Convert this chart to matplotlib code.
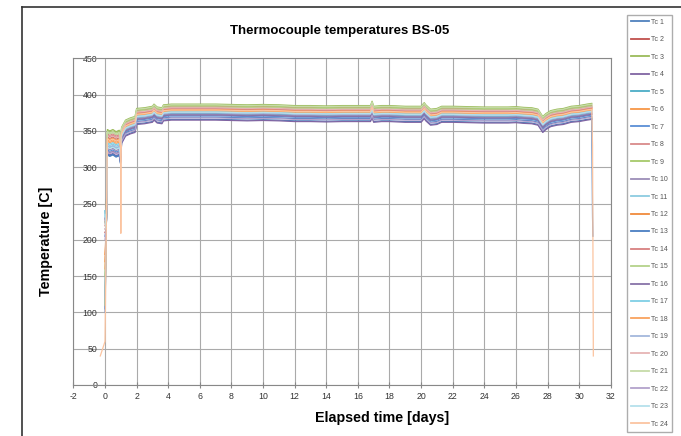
import matplotlib
matplotlib.use("Agg")
import matplotlib.pyplot as plt
from matplotlib.lines import Line2D

plt.rcParams['font.family'] = ['Liberation Sans', 'DejaVu Sans']
plt.rcParams['axes.unicode_minus'] = False

labels = ["Tc %d" % i for i in range(1, 25)]
colors = ["#4F81BD", "#C0504D", "#9BBB59", "#8064A2", "#4BACC6", "#F79646",
          "#5B8FD6", "#D98A8A", "#A6C96A", "#9C8DB8", "#8CCCE0", "#F08A3C",
          "#4A7EC2", "#D88080", "#B4D28A", "#8873A8", "#7FCFE5", "#F9A35E",
          "#A4B8DC", "#E6B4B4", "#C6DBA8", "#B3A2CC", "#B5E0EC", "#FBC4A0"]

# value of each thermocouple when logging starts (day 0)
first_value = [105, 210, 120, 225, 240, 180, 100, 230, 150, 215, 235, 170,
               205, 220, 110, 230, 240, 160, 120, 215, 225, 200, 235, 60]

# start-up phase, mean of all thermocouples
t_start = [0.08, 0.15, 0.3, 0.5, 0.7, 0.9, 0.98]
mean_start = [215, 334, 332, 334, 331, 333, 322]
dev_start = [-17, 8, 18, -15, -5, 4, -10, 12, 16, -8, -2, 6,
             -16, 10, 14, -12, 0, 2, -4, 9, 15, -13, -6, 5]

# main run, mean of all thermocouples
t_run = [1.05, 1.3, 1.6, 1.9, 2.0, 2.5, 3.0, 3.1, 3.3, 3.6, 3.7, 4.2, 5, 6,
         7, 8, 9, 10, 11, 12, 13, 14, 15, 16, 16.8, 16.9, 17.0, 17.5, 18,
         19, 20, 20.2, 20.3, 20.6, 21.0, 21.3, 22, 23, 24, 25, 25.5, 26,
         26.5, 27.0, 27.4, 27.7, 27.9, 28.2, 28.6, 29, 29.5, 30, 30.5, 30.8]
mean_run = [345, 355, 358, 360, 371, 372, 374, 377, 373, 372, 376, 377, 377,
            377, 377, 376.5, 376, 376.5, 376, 375, 375, 374.5, 375, 375, 375,
            381, 374, 375, 375, 374, 374, 379, 376, 370, 371, 374, 374, 373.5,
            373, 373, 373, 373.5, 372.5, 372, 370, 360, 364, 368, 370, 371,
            374, 375, 377, 378]
dev_run = [-11, 5, 10, -12, -3, 2, -6, 7, 8, -4, -1, 3,
           -8, 4, 6, -5, 0, 1, -2, 5, 9, -9, -1, 2]

# individual excursions (label: times, values)
extra = {
    "Tc 24": ([-0.3, 0.99, 1.0, 1.01, 30.85, 30.9], [40, 330, 209, 340, 330, 40]),
    "Tc 13": ([30.85, 30.87], [232, 205]),
}

fig = plt.figure(figsize=(6.81, 4.36), dpi=100)
ax = fig.add_axes([0.1078, 0.117, 0.789, 0.749])

for i, lab in enumerate(labels):
    t = [0.0] + t_start + t_run
    v = ([first_value[i], mean_start[0]] +
         [m + dev_start[i] for m in mean_start[1:]] +
         [m + dev_run[i] for m in mean_run])
    if lab in extra:
        et, ev = extra[lab]
        pts = sorted(zip(t + et, v + ev))
        t = [p[0] for p in pts]
        v = [p[1] for p in pts]
    ax.plot(t, v, color=colors[i], lw=0.9, label=lab)

ax.set_xlim(-2, 32)
ax.set_ylim(0, 450)
ax.set_xticks(range(-2, 33, 2))
ax.set_yticks(range(0, 451, 50))
ax.grid(True, color="#aaaaaa", lw=0.8)
ax.set_axisbelow(True)
for s in ax.spines.values():
    s.set_color("#888888")
ax.tick_params(axis="x", labelsize=6.3, colors="#333333", direction="inout",
               length=4, color="#888888", pad=3)
ax.tick_params(axis="y", labelsize=6.3, colors="#333333", length=0, pad=-17)
for lbl in ax.get_yticklabels():
    lbl.set_horizontalalignment("right")

fig.text(340 / 681, 1 - 31 / 436, "Thermocouple temperatures BS-05",
         fontsize=9.5, fontweight="bold", ha="center", va="center")
ax.text(-0.051, 0.441, "Temperature [C]", transform=ax.transAxes,
        fontsize=10.3, fontweight="bold", rotation=90, ha="center", va="center")
ax.text(0.574, -0.10, "Elapsed time [days]", transform=ax.transAxes,
        fontsize=10.3, fontweight="bold", ha="center", va="center")

leg = fig.legend(loc="upper left", bbox_to_anchor=(0.921, 0.966),
                 fontsize=5, labelspacing=1.51, handlelength=2.6,
                 handletextpad=0.3, borderpad=0.55, borderaxespad=0,
                 fancybox=False, frameon=True, edgecolor="#999999")
for h in leg.legend_handles:
    h.set_linewidth(1.3)
for txt in leg.get_texts():
    txt.set_color("#555555")

# chart area border
fig.add_artist(Line2D([0.032, 0.032], [0.0, 0.984], color="#333333", lw=1.2))
fig.add_artist(Line2D([0.032, 1.0], [0.984, 0.984], color="#333333", lw=1.2))

fig.savefig("out.png", dpi=100)
